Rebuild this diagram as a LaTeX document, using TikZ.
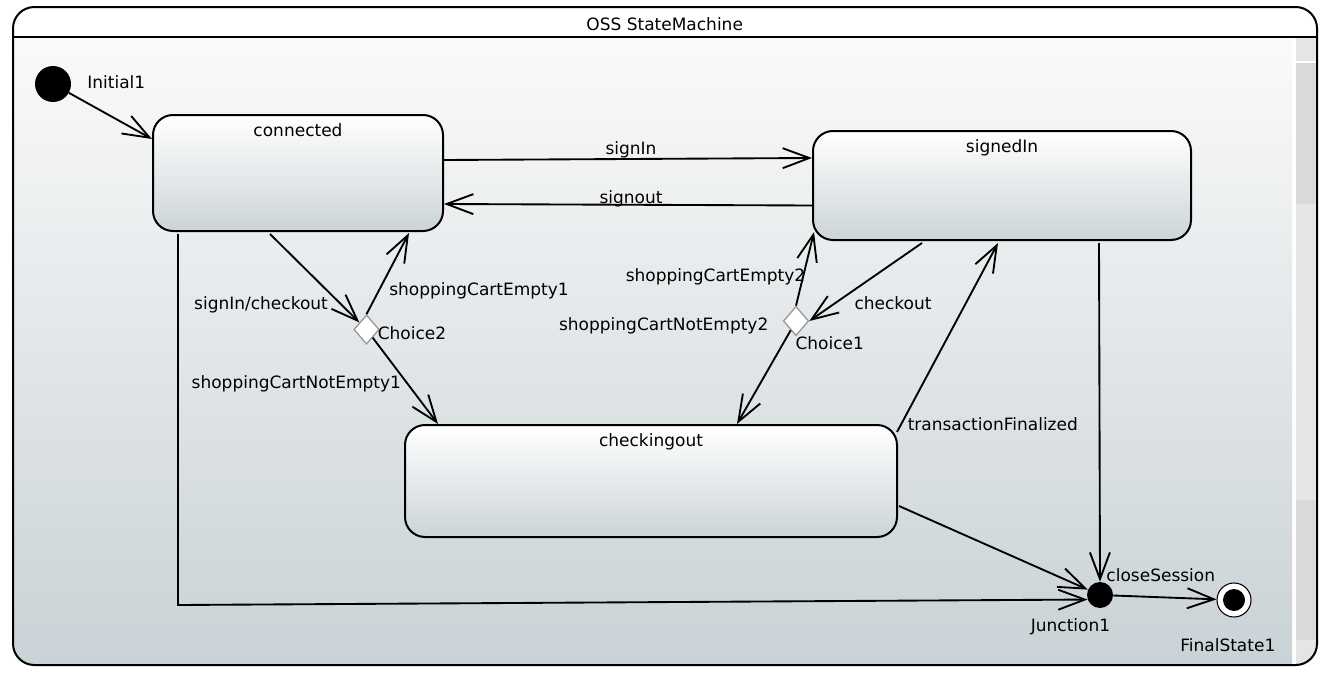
\documentclass[tikz,border=0pt]{standalone}
\usepackage{fontspec}
\setmainfont{DejaVu Sans}
\usetikzlibrary{arrows.meta,calc,shapes.geometric}
\definecolor{bgtop}{HTML}{FAFAFA}
\definecolor{bgbot}{HTML}{C9D2D6}
\definecolor{boxbot}{HTML}{CCD4D7}
\definecolor{sbA}{HTML}{E5E5E5}
\definecolor{sbB}{HTML}{D9D9D9}
\begin{document}
\begin{tikzpicture}[x=0.75pt,y=-0.75pt,
  font=\fontsize{12.75pt}{15pt}\selectfont,
  statebox/.style={draw=black,line width=1.5pt,rounded corners=15pt,top color=white,bottom color=boxbot,inner sep=0pt},
  arr/.style={line width=1.4pt,-{Straight Barb[length=20pt,width=15pt]}},
  lbl/.style={inner sep=0pt,text height=9.5pt,text depth=3pt},
  choicebox/.style={diamond,draw=black!40,fill=white,line width=1pt,inner sep=0pt,minimum width=19pt,minimum height=22pt},
  toplbl/.style={lbl,anchor=north,yshift=-7.5pt},
  ]
\useasboundingbox (0,0) rectangle (1328,678);
% frame background
\begin{scope}
\clip[rounded corners=16pt] (13,7) rectangle (1317,665);
\fill[white] (13,7) rectangle (1317,665);
\shade[top color=bgtop,bottom color=bgbot] (13,37) rectangle (1292,665);
\fill[sbA] (1296,37) rectangle (1316,61);
\fill[sbB] (1296,63) rectangle (1316,204);
\fill[sbA] (1296,204) rectangle (1316,500);
\fill[sbB] (1296,500) rectangle (1316,640);
\fill[sbA] (1296,640) rectangle (1316,665);
\end{scope}
\draw[line width=1.5pt,rounded corners=16pt] (13,7) rectangle (1317,665);
\draw[line width=1.5pt] (13,37) -- (1317,37);
\node[lbl] (title) at (664.7,25.7) {OSS StateMachine};

% states
\node[statebox,minimum width=217.5pt,minimum height=87pt,label={[toplbl]north:connected}] (connected) at (298,173) {};
\node[statebox,minimum width=283.5pt,minimum height=81.75pt,label={[toplbl]north:signedIn}] (signedIn) at (1002,185.5) {};
\node[statebox,minimum width=369pt,minimum height=84pt,label={[toplbl]north:checkingout}] (checkingout) at (651,481) {};

% pseudo states
\node[circle,fill=black,minimum size=27pt,inner sep=0pt] (Initial1) at (53,84) {};
\node[lbl] (lInitial1) at (116.3,83.7) {Initial1};
\node[choicebox] (Choice2) at (366.5,329.5) {};
\node[lbl] (lChoice2) at (412,335) {Choice2};
\node[choicebox] (Choice1) at (796,321) {};
\node[lbl] (lChoice1) at (829.7,345) {Choice1};
\node[circle,fill=black,minimum size=19.5pt,inner sep=0pt] (Junction1) at (1100,595) {};
\node[lbl] (lJunction1) at (1070.5,627.4) {Junction1};
\node[circle,draw=black,line width=0.8pt,fill=white,minimum size=25.5pt,inner sep=0pt] (FinalState1) at (1234,600) {};
\fill[black] (FinalState1.center) circle[radius=11];
\node[lbl] (lFinalState1) at (1227.8,647.4) {FinalState1};

% transitions
\draw[arr] (Initial1) -- ($(connected.north west)+(0,25)$);
\draw[arr] ($(connected.north east)+(0,46)$) -- ($(signedIn.north west)+(0,28)$);
\node[lbl] (lsignIn) at (631,149.7) {signIn};
\draw[arr] ($(signedIn.north west)+(0,75.5)$) -- ($(connected.north east)+(0,90)$);
\node[lbl] (lsignout) at (631,199) {signout};
\draw[arr] ($(connected.south west)+(118,2)$) -- (Choice2);
\node[lbl] (lsignInCheckout) at (261,305) {signIn/checkout};
\draw[arr] (Choice2.north) -- ($(connected.south east)+(-35,1)$);
\node[lbl] (lsce1) at (479,290.7) {shoppingCartEmpty1};
\draw[arr] (Choice2) -- ($(checkingout.north west)+(34,0)$);
\node[lbl] (lscne1) at (296.3,384) {shoppingCartNotEmpty1};
\draw[arr] ($(signedIn.south west)+(110,2)$) -- (Choice1.east);
\node[lbl] (lcheckout) at (893,305) {checkout};
\draw[arr] (Choice1.north) -- ($(signedIn.south west)+(2,-9)$);
\node[lbl] (lsce2) at (715.5,277.4) {shoppingCartEmpty2};
\draw[arr] (Choice1) -- ($(checkingout.north west)+(333,0)$);
\node[lbl] (lscne2) at (663.7,326.4) {shoppingCartNotEmpty2};
\draw[arr] ($(checkingout.north east)+(-1,8)$) -- ($(signedIn.south west)+(186,2)$);
\node[lbl] (ltf) at (992.8,425.7) {transactionFinalized};
\draw[arr] ($(signedIn.south west)+(287,2)$) -- (Junction1.north);
\draw[arr] ($(checkingout.south east)+(1,-32)$) -- (Junction1);
\draw[arr] ($(connected.south west)+(26,2)$) -- ++(0,371) -- (Junction1.200);
\draw[arr] (Junction1) -- (FinalState1);
\node[lbl] (lcloseSession) at (1160.8,577.4) {closeSession};
\end{tikzpicture}
\end{document}
